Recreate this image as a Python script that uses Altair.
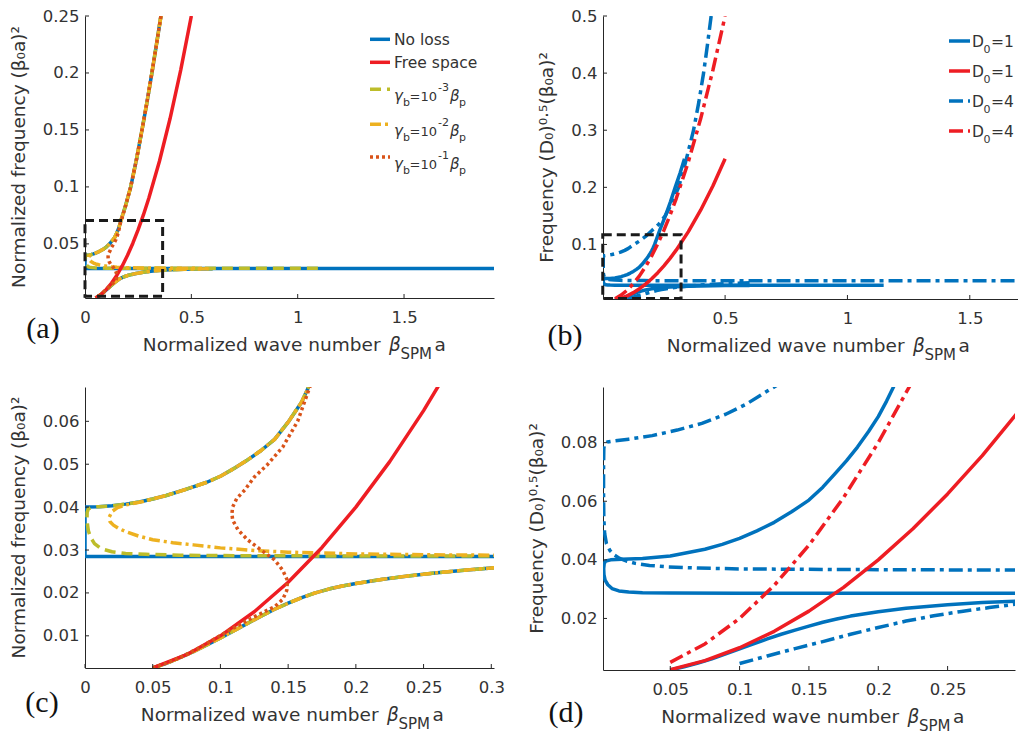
import altair as alt
import pandas as pd

SANS = "DejaVu Sans"
SERIF = "Liberation Serif"
TXT = "#333333"
AX = "#262626"
BLUE = "#0072BD"
RED = "#EE1D23"
OLIVE = "#BDBD2A"
YELLOW = "#EDB120"
ORANGE = "#D95319"
BOXC = "#1a1a1a"

# ---------------- data: panels (a) and (c) ----------------
A_UPPER_X = [0.357, 0.336, 0.3145, 0.292, 0.268, 0.243, 0.215, 0.19, 0.168, 0.16, 0.15, 0.14, 0.13,
             0.12, 0.11, 0.10, 0.09, 0.075, 0.06, 0.05, 0.04, 0.03, 0.02, 0.01, 0.0]
A_UPPER_Y = [0.25, 0.225, 0.2, 0.175, 0.15, 0.125, 0.1, 0.083, 0.07, 0.0645, 0.0598, 0.0558, 0.0532,
             0.051, 0.049, 0.0472, 0.0458, 0.0442, 0.0427, 0.0419, 0.0412, 0.0407, 0.0403, 0.0401, 0.040]
A_FLAT_X = [0.0, 1.923]
A_FLAT_Y = [0.0285, 0.0285]
A_LOWER_X = [0.05, 0.06, 0.07, 0.08, 0.09, 0.10, 0.11, 0.12, 0.13, 0.14, 0.15, 0.16, 0.17, 0.18, 0.19,
             0.20, 0.22, 0.24, 0.26, 0.28, 0.30, 0.33, 0.36, 0.40, 0.50, 0.60]
A_LOWER_Y = [0.0025, 0.0036, 0.0049, 0.0063, 0.0079, 0.0095, 0.0112, 0.0129, 0.0146, 0.0162, 0.0176,
             0.0189, 0.0200, 0.0209, 0.0216, 0.0222, 0.0232, 0.0240, 0.0247, 0.0253, 0.0258, 0.0264,
             0.0269, 0.0273, 0.0279, 0.0282]
FREE_X = [0.05, 0.075, 0.1, 0.125, 0.15, 0.175, 0.2, 0.225, 0.25, 0.275, 0.3, 0.35, 0.4, 0.45, 0.5]
FREE_Y = [0.0025, 0.0056, 0.0100, 0.0156, 0.0225, 0.0306, 0.0400, 0.0506, 0.0625, 0.0756, 0.0900,
          0.1225, 0.1600, 0.2025, 0.2500]
# gamma_b = 1e-3 : curl at k -> 0 then flat
G3_TAIL_X = [0.005, 0.0025, 0.0016, 0.0015, 0.0018, 0.0025, 0.004, 0.007, 0.012, 0.02, 0.03, 0.045,
             0.07, 0.1, 0.2, 0.5, 1.12]
G3_TAIL_Y = [0.0400, 0.0396, 0.0388, 0.0375, 0.0360, 0.0345, 0.0330, 0.0315, 0.0303, 0.0296, 0.0292,
             0.0290, 0.0288, 0.0287, 0.0286, 0.0286, 0.0286]
# gamma_b = 1e-2 : nose near k = 0.018
G2_TAIL_X = [0.04, 0.03, 0.024, 0.020, 0.0178, 0.0185, 0.021, 0.025, 0.03, 0.04, 0.05, 0.065, 0.08,
             0.10, 0.125, 0.15, 0.2, 0.25, 0.3, 0.4, 0.55]
G2_TAIL_Y = [0.0411, 0.0405, 0.0399, 0.0390, 0.0376, 0.0366, 0.0358, 0.0350, 0.0343, 0.0332, 0.0324,
             0.0317, 0.0312, 0.0305, 0.0299, 0.0295, 0.0291, 0.0289, 0.0288, 0.0287, 0.0286]
# gamma_b = 1e-1 : upper and lower branches joined
G1_TAIL_X = [0.178, 0.166, 0.157, 0.146, 0.135, 0.125, 0.118, 0.112, 0.109, 0.1085, 0.109, 0.113, 0.12,
             0.13, 0.14, 0.146, 0.1495, 0.149, 0.146, 0.140, 0.133, 0.126, 0.120, 0.113, 0.105, 0.097,
             0.085, 0.07, 0.06, 0.05]
G1_TAIL_Y = [0.075, 0.068, 0.060, 0.054, 0.050, 0.047, 0.044, 0.042, 0.040, 0.0385, 0.037, 0.0347,
             0.0324, 0.030, 0.0277, 0.0253, 0.0229, 0.0206, 0.0185, 0.0168, 0.0157, 0.0146, 0.0136,
             0.0124, 0.0110, 0.0095, 0.0073, 0.0049, 0.0036, 0.0025]

# ---------------- data: panels (b) and (d) ----------------
D1_UP_X = [0.334, 0.316, 0.296, 0.277, 0.256, 0.233, 0.212, 0.206, 0.2, 0.193, 0.185, 0.177, 0.169,
           0.16, 0.15, 0.1375, 0.125, 0.1125, 0.1, 0.0875, 0.075, 0.05, 0.03, 0.015, 0.007, 0.0035,
           0.0024, 0.002, 0.0022, 0.003, 0.005, 0.008, 0.013, 0.02, 0.03, 0.05, 0.1, 0.2, 0.5, 1.148]
D1_UP_Y = [0.25, 0.225, 0.2, 0.175, 0.15, 0.125, 0.1, 0.0942, 0.0889, 0.0838, 0.0785, 0.0738, 0.0695,
           0.0648, 0.0604, 0.0564, 0.0528, 0.0499, 0.0473, 0.0453, 0.0436, 0.0413, 0.0405, 0.0402,
           0.0400, 0.0396, 0.0388, 0.0370, 0.0350, 0.0331, 0.0315, 0.0302, 0.0294, 0.0290, 0.0288,
           0.0287, 0.0286, 0.0286, 0.0286, 0.0286]
D1_LOW_X = [0.05, 0.06, 0.07, 0.08, 0.09, 0.10, 0.11, 0.12, 0.13, 0.14, 0.15, 0.16, 0.17, 0.18, 0.20,
            0.22, 0.25, 0.275, 0.30, 0.35, 0.40, 0.50, 0.60]
D1_LOW_Y = [0.0024, 0.0035, 0.0048, 0.0062, 0.0079, 0.0096, 0.0113, 0.0130, 0.0146, 0.0160, 0.0174,
            0.0187, 0.0198, 0.0208, 0.0223, 0.0235, 0.0247, 0.0254, 0.0259, 0.0268, 0.0274, 0.0280,
            0.0283]
D4_FREE_X = [0.05, 0.075, 0.1, 0.125, 0.15, 0.175, 0.2, 0.225, 0.25, 0.275, 0.3, 0.35, 0.4, 0.45, 0.5]
D4_FREE_Y = [0.005, 0.0113, 0.02, 0.0313, 0.045, 0.0613, 0.08, 0.1013, 0.125, 0.1513, 0.18, 0.245,
             0.32, 0.405, 0.5]
D4_UP_X = [0.443, 0.428, 0.412, 0.393, 0.371, 0.342, 0.31, 0.282, 0.255, 0.228, 0.2, 0.175, 0.15, 0.123,
           0.105, 0.09, 0.0728, 0.055, 0.037, 0.02, 0.01, 0.0045, 0.0026, 0.0021, 0.0019, 0.0019,
           0.0021, 0.0027, 0.004, 0.0065, 0.0095, 0.0135, 0.019, 0.0248, 0.035, 0.0488, 0.07, 0.1,
           0.17, 0.3, 0.6, 1.7]
D4_UP_Y = [0.5, 0.45, 0.4, 0.35, 0.3, 0.25, 0.2, 0.172, 0.15, 0.135, 0.124, 0.114, 0.106, 0.0985,
           0.0932, 0.0897, 0.0866, 0.0843, 0.0824, 0.0812, 0.0806, 0.0802, 0.0795, 0.0780, 0.0720,
           0.0620, 0.0540, 0.0490, 0.0455, 0.0432, 0.0417, 0.0405, 0.0395, 0.0388, 0.0381, 0.0376,
           0.0372, 0.0369, 0.0367, 0.0365, 0.0364, 0.0364]
D4_LOW_X = [0.1, 0.12, 0.14, 0.16, 0.18, 0.2, 0.22, 0.24, 0.26, 0.28, 0.3, 0.35, 0.4, 0.5, 0.6]
D4_LOW_Y = [0.0046, 0.0072, 0.0097, 0.0121, 0.0146, 0.0169, 0.0191, 0.0209, 0.0224, 0.0237, 0.0249,
            0.0272, 0.0290, 0.0315, 0.0330]

# zoom boxes [x0, x1, y0, y1]
BOX_A = [0.0, 0.365, 0.004, 0.0705]
BOX_B = [0.0, 0.32, 0.0055, 0.117]

# axis ticks
A_XT = [0, 0.5, 1, 1.5]
A_YT = [0.05, 0.1, 0.15, 0.2, 0.25]
C_XT = [0, 0.05, 0.1, 0.15, 0.2, 0.25, 0.3]
C_YT = [0.01, 0.02, 0.03, 0.04, 0.05, 0.06]
B_XT = [0.5, 1, 1.5]
B_YT = [0.1, 0.2, 0.3, 0.4, 0.5]
D_XT = [0.05, 0.1, 0.15, 0.2, 0.25]
D_YT = [0.02, 0.04, 0.06, 0.08]


def seg_df(parts):
    rows = []
    for name, xs, ys in parts:
        for i, (x, y) in enumerate(zip(xs, ys)):
            rows.append({"x": x, "y": y, "seg": name, "i": i})
    return pd.DataFrame(rows)


NOLOSS = seg_df([("u", A_UPPER_X + A_FLAT_X, A_UPPER_Y + A_FLAT_Y), ("l", A_LOWER_X, A_LOWER_Y)])
FREE = seg_df([("f", FREE_X, FREE_Y)])
G3 = seg_df([("u", A_UPPER_X[:24] + G3_TAIL_X, A_UPPER_Y[:24] + G3_TAIL_Y), ("l", A_LOWER_X, A_LOWER_Y)])
G2 = seg_df([("u", A_UPPER_X[:20] + G2_TAIL_X, A_UPPER_Y[:20] + G2_TAIL_Y), ("l", A_LOWER_X, A_LOWER_Y)])
G1 = seg_df([("u", A_UPPER_X[:8] + G1_TAIL_X, A_UPPER_Y[:8] + G1_TAIL_Y)])

D1B = seg_df([("u", D1_UP_X, D1_UP_Y), ("l", D1_LOW_X, D1_LOW_Y)])
D1R = seg_df([("f", FREE_X, FREE_Y)])
D4B = seg_df([("u", D4_UP_X, D4_UP_Y), ("l", D4_LOW_X, D4_LOW_Y)])
D4R = seg_df([("f", D4_FREE_X, D4_FREE_Y)])

ONE = pd.DataFrame({"k": [0]})

DASH3 = [11, 6]
DASH2 = [11, 4, 3, 4]
DOT1 = [3, 3]
DASHD = [14, 5, 4, 5]
LW = 3.5


def T(s, x, y, size=16.0, italic=False, font=SANS, angle=0, align="left", baseline="alphabetic", color=TXT):
    kw = dict(text=s, fontSize=size, font=font, align=align, baseline=baseline, color=color)
    if italic:
        kw["fontStyle"] = "italic"
    if angle:
        kw["angle"] = angle
    return alt.Chart(ONE).mark_text(**kw).encode(x=alt.value(x), y=alt.value(y))


def L(x1, x2, y, color, dash=None, width=LW):
    kw = dict(color=color, strokeWidth=width, strokeCap="butt")
    if dash:
        kw["strokeDash"] = dash
    return alt.Chart(ONE).mark_rule(**kw).encode(x=alt.value(x1), x2=alt.value(x2), y=alt.value(y))


def xtitle(W, H, dx=0.0):
    cx = W / 2 + dx
    base = H + 53
    return [T("Normalized wave number", cx + 91, base, 18.5, align="right"),
            T("β", cx + 99.5, base, 18.5, italic=True),
            T("SPM", cx + 111, base + 8, 15),
            T("a", cx + 145, base, 18.5)]


def panel(W, H, xdom, ydom, xt, yt, series, box, ann):
    xs = alt.Scale(domain=xdom, nice=False, zero=False)
    ys = alt.Scale(domain=ydom, nice=False, zero=False)
    xenc = alt.X("x:Q", scale=xs, axis=alt.Axis(values=xt, title=None, format="~g"))
    yenc = alt.Y("y:Q", scale=ys, axis=alt.Axis(values=yt, title=None, format="~g"))
    layers = []
    for df, color, dash in series:
        kw = dict(color=color, strokeWidth=LW, clip=True, strokeCap="butt", strokeJoin="round")
        if dash:
            kw["strokeDash"] = dash
        layers.append(alt.Chart(df).mark_line(**kw).encode(x=xenc, y=yenc, detail="seg:N", order="i:Q"))
    if box:
        bdf = pd.DataFrame({"x": [box[0]], "x2": [box[1]], "y": [box[2]], "y2": [box[3]]})
        layers.append(alt.Chart(bdf).mark_rect(fillOpacity=0, stroke=BOXC, strokeWidth=3, strokeDash=[9, 5])
                      .encode(x=xenc, x2=alt.X2("x2"), y=yenc, y2=alt.Y2("y2")))
    layers.append(alt.Chart(pd.DataFrame({"x": xt})).mark_rule(color=AX, strokeWidth=1)
                  .encode(x=xenc, y=alt.value(H), y2=alt.value(H - 4)))
    layers.append(alt.Chart(pd.DataFrame({"y": yt})).mark_rule(color=AX, strokeWidth=1)
                  .encode(y=yenc, x=alt.value(0), x2=alt.value(4)))
    layers += ann
    return alt.layer(*layers).properties(width=W, height=H)


YT1 = "Normalized frequency (β₀a)²"
YT2 = "Frequency (D₀)⁰·⁵(β₀a)²"

# ---- panel (a)
WA, HA = 409, 282
leg_a = []
rows = [23.3, 46.3, 73.3, 108.3, 141.0]
leg_a.append(L(285, 305, rows[0], BLUE))
leg_a.append(T("No loss", 309, rows[0] + 1, 15.5, baseline="middle"))
leg_a.append(L(285, 305, rows[1], RED))
leg_a.append(T("Free space", 309, rows[1] + 1, 15.5, baseline="middle"))
for ly, col, dsh, ex in [(rows[2], OLIVE, DASH3, "-3"), (rows[3], YELLOW, DASH2, "-2"), (rows[4], ORANGE, DOT1, "-1")]:
    leg_a.append(L(285, 305, ly, col, dsh))
    leg_a.append(T("γ", 309, ly + 12, 15, italic=True))
    leg_a.append(T("b", 318, ly + 17, 11))
    leg_a.append(T("=10", 324.5, ly + 12, 13))
    leg_a.append(T(ex, 353, ly + 2, 11))
    leg_a.append(T("β", 365, ly + 12, 15, italic=True))
    leg_a.append(T("p", 374, ly + 17, 11))
ann_a = leg_a + xtitle(WA, HA, 0) + [
    T(YT1, -66, HA / 2, 18.5, angle=270, align="center", baseline="middle"),
    T("(a)", -42, HA + 40, 30, font=SERIF, align="center", color="#111111"),
]
A = panel(WA, HA, [0, 1.923], [0.0025, 0.25], A_XT, A_YT,
          [(NOLOSS, BLUE, None), (G3, OLIVE, DASH3), (G2, YELLOW, DASH2), (FREE, RED, None), (G1, ORANGE, DOT1)],
          BOX_A, ann_a)

# ---- panel (c)
WC, HC = 409, 281
ann_c = xtitle(WC, HC, -2) + [
    T(YT1, -66, HC / 2, 18.5, angle=270, align="center", baseline="middle"),
    T("(c)", -43, HC + 44, 30, font=SERIF, align="center", color="#111111"),
]
C = panel(WC, HC, [0, 0.302], [0.0025, 0.068], C_XT, C_YT,
          [(NOLOSS, BLUE, None), (G3, OLIVE, DASH3), (G2, YELLOW, DASH2), (FREE, RED, None), (G1, ORANGE, DOT1)],
          None, ann_c)

# ---- panel (b)
WB, HB = 415, 283
leg_b = []
for ly, col, dsh, v in [(25, BLUE, None, "=1"), (55, RED, None, "=1"), (85, BLUE, DASHD, "=4"), (115, RED, DASHD, "=4")]:
    leg_b.append(L(346, 367, ly, col, dsh))
    leg_b.append(T("D", 369, ly + 6, 15.5))
    leg_b.append(T("0", 380.5, ly + 12, 11))
    leg_b.append(T(v, 388, ly + 6, 15.5))
ann_b = leg_b + xtitle(WB, HB, 3) + [
    T(YT2, -56, HB / 2, 18.5, angle=270, align="center", baseline="middle"),
    T("(b)", -38, HB + 46, 30, font=SERIF, align="center", color="#111111"),
]
B = panel(WB, HB, [0.001, 1.697], [0.0045, 0.5], B_XT, B_YT,
          [(D1B, BLUE, None), (D4B, BLUE, DASHD), (D1R, RED, None), (D4R, RED, DASHD)],
          BOX_B, ann_b)

# ---- panel (d)
WD, HD = 412, 283
ann_d = xtitle(WD, HD, -1) + [
    T(YT2, -66, HD / 2, 18.5, angle=270, align="center", baseline="middle"),
    T("(d)", -37, HD + 52, 30, font=SERIF, align="center", color="#111111"),
]
D = panel(WD, HD, [0.0015, 0.2986], [0.0024, 0.099], D_XT, D_YT,
          [(D1B, BLUE, None), (D4B, BLUE, DASHD), (D1R, RED, None), (D4R, RED, DASHD)],
          None, ann_d)

chart = alt.concat(
    A, B, C, D, columns=2,
    spacing={"row": 88, "column": 109}, bounds="flush",
).properties(
    padding={"left": 2, "top": 0, "right": 0, "bottom": 0}
).configure_view(stroke=None).configure_axis(
    labelFont=SANS, labelFontSize=16.5, labelColor=TXT, domainColor=AX, domainWidth=1,
    ticks=False, tickSize=0, grid=False, labelFlush=False,
).configure_axisX(labelPadding=11).configure_axisY(labelPadding=6)

chart.save("out.html", embed_options={"renderer": "svg", "actions": False})
